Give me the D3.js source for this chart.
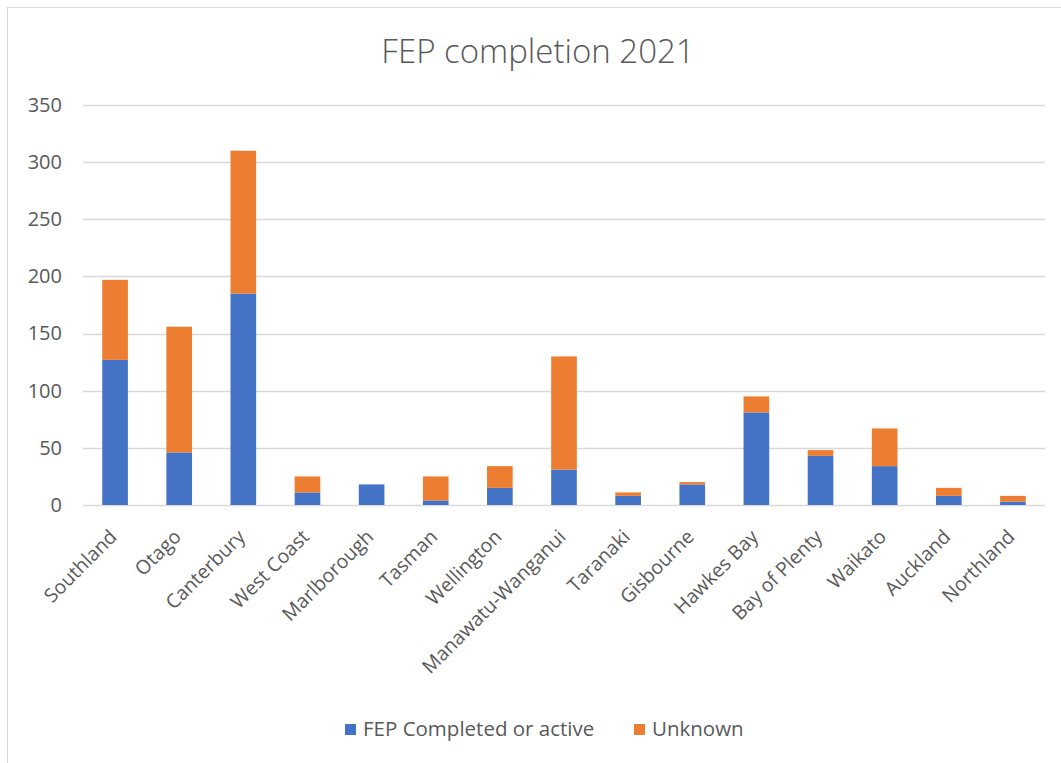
<!DOCTYPE html>
<html>
<head>
<meta charset="utf-8">
<script src="https://cdn.jsdelivr.net/npm/d3@7"></script>
<style>
  body { margin: 0; background: #fff; }
  svg text { font-family: "Open Sans", "Liberation Sans", sans-serif; fill: #595959; }
</style>
</head>
<body>
<div id="chart"></div>
<script>
const regions = ["Southland", "Otago", "Canterbury", "West Coast", "Marlborough", "Tasman", "Wellington",
  "Manawatu-Wanganui", "Taranaki", "Gisbourne", "Hawkes Bay", "Bay of Plenty", "Waikato", "Auckland", "Northland"];
const completed = [127, 46, 185, 11, 18, 4, 15, 31, 8, 18, 81, 43, 34, 8, 3];
const unknown = [70, 110, 125, 14, 0, 21, 19, 99, 3, 2, 14, 5, 33, 7, 5];
const seriesNames = ["FEP Completed or active", "Unknown"];
const colors = ["#4472C4", "#ED7D31"];
const yTicks = [0, 50, 100, 150, 200, 250, 300, 350];

const W = 1061, H = 763;
const margin = { left: 83, right: 16, top: 105, bottom: 258 };

const svg = d3.select("#chart").append("svg").attr("width", W).attr("height", H);

// chart frame
svg.append("rect").attr("x", 7.5).attr("y", 7.5).attr("width", W + 10).attr("height", H - 3)
  .attr("fill", "none").attr("stroke", "#d9d9d9");

svg.append("text").attr("x", 538).attr("y", 63).attr("text-anchor", "middle")
  .style("font-size", "33px").style("font-weight", 300).text("FEP completion 2021");

const x = d3.scaleBand().domain(regions).range([margin.left, W - margin.right]).paddingInner(0.6).paddingOuter(0.3);
const y = d3.scaleLinear().domain([0, 350]).range([H - margin.bottom, margin.top]);

// gridlines
svg.append("g").selectAll("line").data(yTicks).enter().append("line")
  .attr("x1", margin.left).attr("x2", W - margin.right)
  .attr("y1", d => Math.round(y(d)) + 0.5).attr("y2", d => Math.round(y(d)) + 0.5)
  .attr("stroke", "#d9d9d9").attr("stroke-width", 1.3);

// y axis labels
const yAxis = d3.axisLeft(y).tickValues(yTicks).tickSize(0).tickPadding(21);
const yg = svg.append("g").attr("transform", `translate(${margin.left},0)`).call(yAxis);
yg.select(".domain").remove();
yg.selectAll("text").style("font-size", "20px").attr("fill", "#595959");

// stacked bars
const rows = regions.map((r, i) => ({ region: r, completed: completed[i], unknown: unknown[i] }));
const stack = d3.stack().keys(["completed", "unknown"])(rows);
svg.append("g").selectAll("g").data(stack).enter().append("g")
  .attr("fill", (d, i) => colors[i])
  .selectAll("rect").data(d => d).enter().append("rect")
  .attr("x", d => x(d.data.region))
  .attr("width", x.bandwidth())
  .attr("y", d => y(d[1]))
  .attr("height", d => y(d[0]) - y(d[1]));

// x axis labels
const xAxis = d3.axisBottom(x).tickSize(0).tickPadding(0);
const xg = svg.append("g").attr("transform", `translate(0,${H - margin.bottom})`).call(xAxis);
xg.select(".domain").remove();
xg.selectAll("text")
  .style("font-size", "19.5px").attr("fill", "#595959")
  .attr("text-anchor", "end")
  .attr("dy", "0")
  .attr("transform", "translate(3,33) rotate(-45)");

// legend
const legendX = [345, 634];
const lg = svg.append("g");
seriesNames.forEach((name, i) => {
  lg.append("rect").attr("x", legendX[i]).attr("y", 724).attr("width", 11).attr("height", 11).attr("fill", colors[i]);
  lg.append("text").attr("x", legendX[i] + 18).attr("y", 736).style("font-size", "20.5px").text(name);
});
</script>
</body>
</html>
